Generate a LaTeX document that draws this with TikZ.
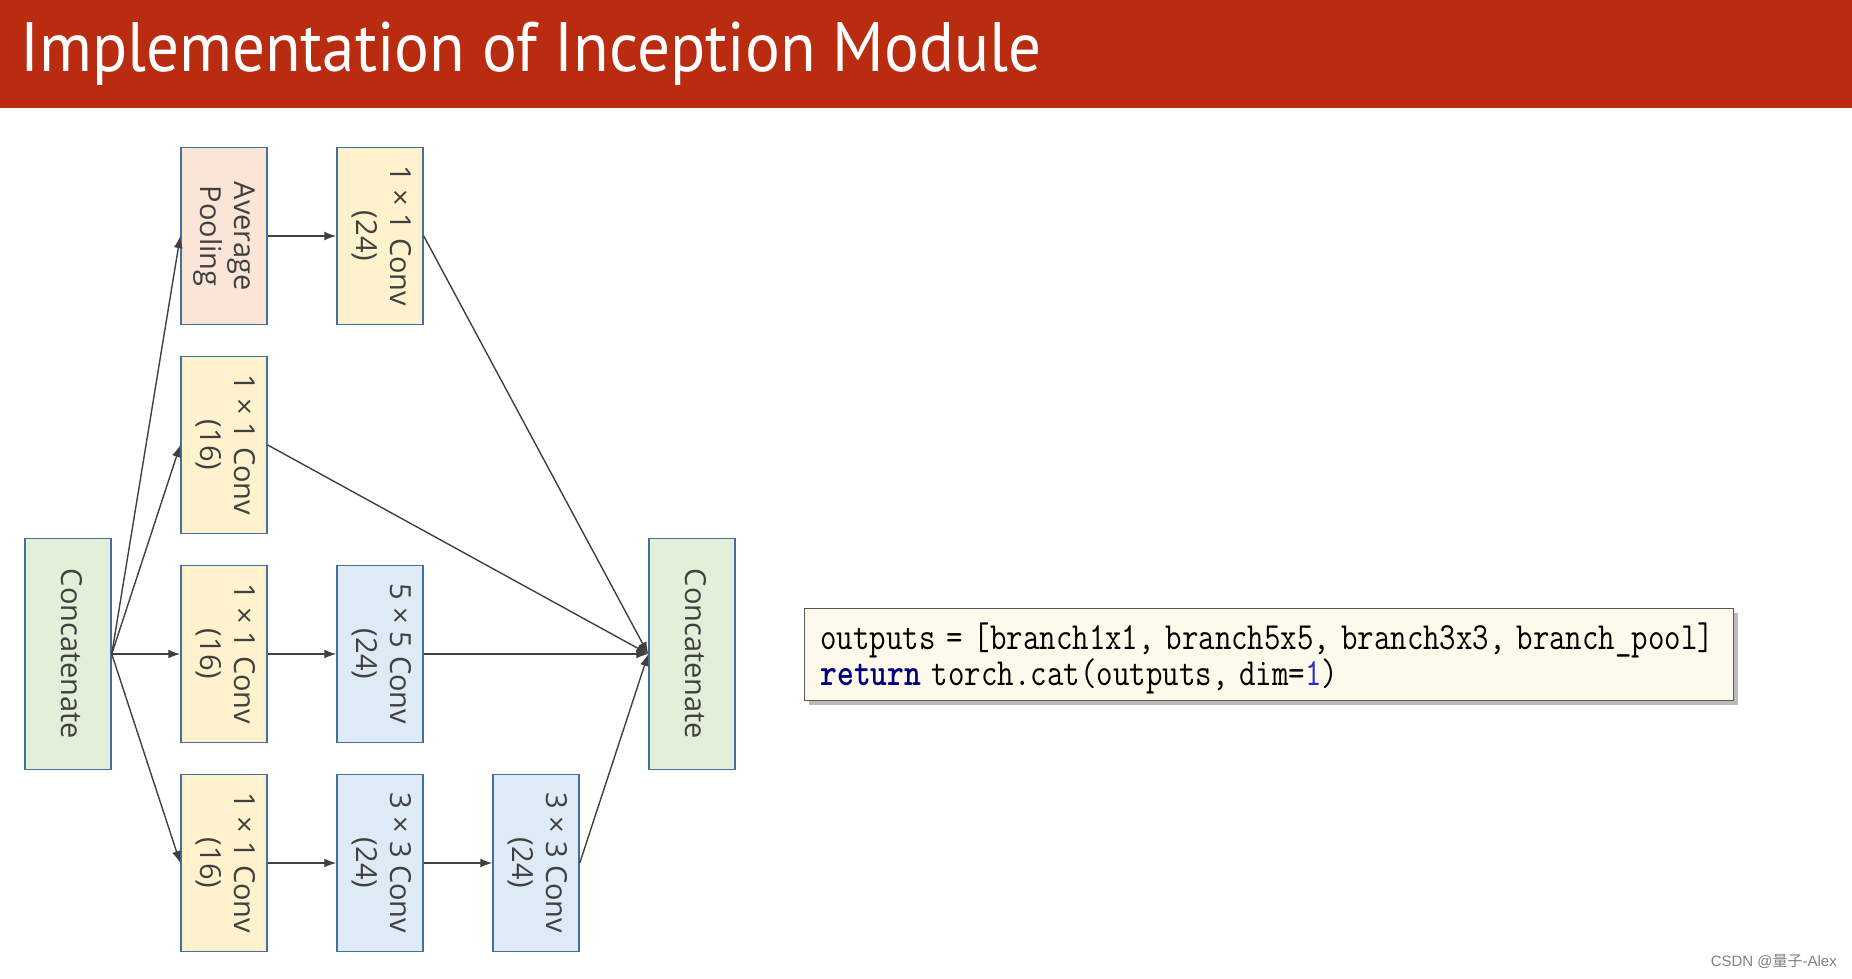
\documentclass[tikz,border=0pt]{standalone}
\usepackage{fontspec}
\setmainfont{Open Sans}
\newfontfamily\titlefont{PT Sans}
\newfontfamily\cjk{Noto Sans CJK SC}
\newfontfamily\wmfont{Liberation Sans}
\usepackage{xcolor}
\usepackage{tikz}
\usetikzlibrary{arrows.meta,positioning,shadows}

\definecolor{titlered}{RGB}{185,44,16}
\definecolor{boxline}{RGB}{65,113,156}
\definecolor{poolfill}{RGB}{251,229,214}
\definecolor{convfill}{RGB}{255,242,204}
\definecolor{bigfill}{RGB}{222,235,247}
\definecolor{catfill}{RGB}{226,240,217}
\definecolor{wire}{RGB}{64,64,64}
\definecolor{codefill}{RGB}{254,250,235}
\definecolor{kwblue}{RGB}{0,0,128}
\definecolor{numblue}{RGB}{40,40,210}

\newcommand{\vtext}[1]{\rotatebox{-90}{\begin{tabular}{@{}c@{}}#1\end{tabular}}}
\newcommand{\codeline}[1]{\scalebox{1}[1.2]{#1}}

\begin{document}
\begin{tikzpicture}[x=1pt, y=-1pt,
    box/.style={rectangle, draw=boxline, line width=1.5pt, minimum width=86pt, minimum height=177pt, inner sep=0pt, text=black!75, font=\fontsize{29}{34}\selectfont},
    pool/.style={box, fill=poolfill},
    conv/.style={box, fill=convfill},
    bigconv/.style={box, fill=bigfill},
    concat/.style={box, fill=catfill, minimum height=231pt},
    link/.style={-{Latex[length=12pt,width=9pt]}, draw=wire, line width=1.4pt},
    codebox/.style={rectangle, draw=black!65, line width=1pt, fill=codefill, text width=897pt, inner xsep=16pt, minimum height=92pt, align=left, font=\ttfamily\fontsize{32}{36}\selectfont, drop shadow={shadow xshift=4pt, shadow yshift=-4pt, fill=black!45, opacity=0.6}}]
    \useasboundingbox (0,0) rectangle (1852,978);
    \fill[titlered] (0,0) rectangle (1852,108);
    \node[anchor=base west, inner sep=0pt, text=white, font=\titlefont\fontsize{70}{80}\selectfont] (title) at (20,71) {\scalebox{0.93}[1]{Implementation of Inception Module}};

    \node[concat] (inlayer) at (68,654) {\vtext{Concatenate}};
    \node[pool] (avgpool) at (224,236) {\vtext{Average\\Pooling}};
    \node[conv, right=68.5pt of avgpool] (poolconv) {\vtext{1 × 1 Conv\\(24)}};
    \node[conv, below=30.5pt of avgpool] (conv1) {\vtext{1 × 1 Conv\\(16)}};
    \node[conv, below=30.5pt of conv1] (conv5a) {\vtext{1 × 1 Conv\\(16)}};
    \node[bigconv, right=68.5pt of conv5a] (conv5b) {\vtext{5 × 5 Conv\\(24)}};
    \node[conv, below=30.5pt of conv5a] (conv3a) {\vtext{1 × 1 Conv\\(16)}};
    \node[bigconv, right=68.5pt of conv3a] (conv3b) {\vtext{3 × 3 Conv\\(24)}};
    \node[bigconv, right=68.5pt of conv3b] (conv3c) {\vtext{3 × 3 Conv\\(24)}};
    \node[concat] (outlayer) at (692,654) {\vtext{Concatenate}};

    \draw[link] (inlayer.east) -- (avgpool.west);
    \draw[link] (inlayer.east) -- (conv1.west);
    \draw[link] (inlayer.east) -- (conv5a.west);
    \draw[link] (inlayer.east) -- (conv3a.west);
    \draw[link] (avgpool) -- (poolconv);
    \draw[link] (conv5a) -- (conv5b);
    \draw[link] (conv3a) -- (conv3b);
    \draw[link] (conv3b) -- (conv3c);
    \draw[link] (poolconv.east) -- (outlayer.west);
    \draw[link] (conv1.east) -- (outlayer.west);
    \draw[link] (conv5b.east) -- (outlayer.west);
    \draw[link] (conv3c.east) -- (outlayer.west);

    \node[codebox, anchor=north west] (code) at (804,608) {\rule{0pt}{35pt}\codeline{outputs = [branch1x1, branch5x5, branch3x3, branch\_pool]}\\\codeline{{\bfseries\color{kwblue}return} torch.cat(outputs, dim={\color{numblue}1})}};

    \node[anchor=base east, inner sep=0pt, text=black!50, font=\wmfont\fontsize{15}{18}\selectfont] (mark) at (1837,966) {CSDN @{\cjk 量子}-Alex};
\end{tikzpicture}
\end{document}
